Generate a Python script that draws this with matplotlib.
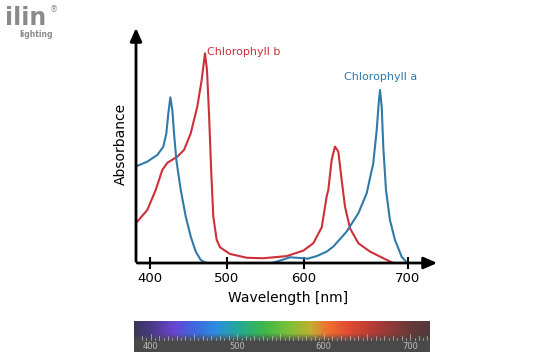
import numpy as np
import matplotlib.pyplot as plt
from matplotlib.colors import LinearSegmentedColormap

# Спектри поглинання (довжина хвилі, нм -> поглинання, відн. од.)
chl_a_wl_1 = [381.8, 383.5, 396.5, 409.5, 417.3, 421.2, 423.8, 426.4, 429.0, 431.2, 434.2,
              439.9, 446.4, 452.9, 459.4, 465.8, 472.3, 476]
chl_a_abs_1 = [0.404, 0.408, 0.426, 0.454, 0.489, 0.545, 0.629, 0.696, 0.643, 0.545, 0.433,
               0.307, 0.195, 0.111, 0.048, 0.013, 0.001, 0.0]
chl_a_wl_2 = [558.3, 569.1, 582.1, 595.2, 603.5, 612.5, 622.1, 628.4, 641.2, 652.4, 660.4,
              666.7, 670.0, 671.9, 673.2, 674.8, 676.3, 678.9, 682.7, 687.5, 694.0, 699.3]
chl_a_abs_2 = [0.0, 0.01, 0.024, 0.021, 0.018, 0.029, 0.048, 0.069, 0.132, 0.209, 0.293,
               0.419, 0.559, 0.671, 0.727, 0.657, 0.489, 0.307, 0.181, 0.097, 0.026, 0.0]

chl_b_wl = [381.8, 383.5, 396.5, 407.4, 416.0, 422.5, 435.5, 444.2, 452.9, 461.4, 467.1, 471.4,
            474.0, 476.6, 479.6, 482.2, 486.6, 490.9, 503.9, 525.7, 547.3, 577.8, 599.5, 609.2,
            617.3, 622.0, 623.6, 626.8, 630.0, 633.2, 636.4, 639.6, 644.4, 652.4, 663.6, 676.3, 685.9]
chl_b_abs = [0.17, 0.174, 0.223, 0.307, 0.391, 0.421, 0.447, 0.475, 0.545, 0.657, 0.769, 0.881,
             0.811, 0.629, 0.377, 0.195, 0.097, 0.066, 0.038, 0.022, 0.020, 0.029, 0.052, 0.083,
             0.150, 0.279, 0.307, 0.433, 0.489, 0.468, 0.349, 0.237, 0.146, 0.083, 0.048, 0.020, 0.0]

ticks = [400, 500, 600, 700]

# Кольори спектра для шкали внизу
spec_wl = [380, 400, 425, 450, 475, 500, 530, 560, 585, 605, 630, 660, 700, 725]
spec_col = ['#3b3458', '#4a3a86', '#6a44d0', '#3d68e0', '#2d8ee0', '#22a89a', '#3cb84a', '#7cc038',
            '#c0b030', '#f07030', '#e04a32', '#b03a36', '#6a3a3a', '#503838']

RED = '#cc3038'
BLUE = '#2f7aa8'

# Нелінійна шкала осі x, як на оригіналі
knot_wl = [300, 400, 500, 600, 700, 800]
knot_px = [73.0, 150, 227, 303.7, 408, 512.3]


def fwd(x):
    return np.interp(x, knot_wl, knot_px, left=-1e4, right=1e4)


def inv(x):
    return np.interp(x, knot_px, knot_wl, left=-1e4, right=1e4)


W, H = 538, 364
fig = plt.figure(figsize=(W / 100, H / 100), dpi=100)


def box(x0, y0, x1, y1):
    return [x0 / W, 1 - y1 / H, (x1 - x0) / W, (y1 - y0) / H]


ax = fig.add_axes(box(136, 25, 440, 263))
ax.set_xscale('function', functions=(fwd, inv))
kw = dict(lw=1.5, solid_joinstyle='round', solid_capstyle='round')
ax.plot(chl_b_wl, chl_b_abs, color=RED, **kw)
ax.plot(chl_a_wl_1, chl_a_abs_1, color=BLUE, **kw)
ax.plot(chl_a_wl_2, chl_a_abs_2, color=BLUE, **kw)
ax.set_xlim(381.8, 730.7)
ax.set_ylim(0, 1)

for s in ax.spines.values():
    s.set_visible(False)
ax.annotate('', xy=(1.0, 0), xytext=(-0.005, 0), xycoords='axes fraction',
            arrowprops=dict(arrowstyle='-|>,head_length=0.8,head_width=0.35', color='black', lw=2))
ax.annotate('', xy=(0, 1.0), xytext=(0, -0.005), xycoords='axes fraction',
            arrowprops=dict(arrowstyle='-|>,head_length=0.8,head_width=0.35', color='black', lw=2))
ax.set_xticks(ticks)
ax.set_xticklabels([str(t) for t in ticks])
ax.tick_params(axis='x', direction='inout', length=9, width=1.5, labelsize=9.5, pad=2)
ax.set_yticks([])
ax.set_xlabel('Wavelength [nm]', fontsize=10, labelpad=4)
ax.set_ylabel('Absorbance', fontsize=10, labelpad=6)

ax.text(474, 0.885, 'Chlorophyll b', color=RED, fontsize=8, va='center', ha='left')
ax.text(639, 0.78, 'Chlorophyll a', color=BLUE, fontsize=8, va='center', ha='left')

# Шкала спектра
bx = fig.add_axes(box(134, 321, 430, 352))
wl = np.linspace(380.7, 722.9, 400)
pos = [(w - spec_wl[0]) / (spec_wl[-1] - spec_wl[0]) for w in spec_wl]
cmap = LinearSegmentedColormap.from_list('spec', list(zip(pos, spec_col)))
bx.imshow(wl[None, :], aspect='auto', cmap=cmap, vmin=spec_wl[0], vmax=spec_wl[-1],
          extent=(380.7, 722.9, 0, 1))
fade = np.zeros((60, 1, 4))
fade[..., :3] = 0.29
fade[:, 0, 3] = np.clip((np.linspace(0, 1, 60) - 0.4) / 0.25, 0, 1)
bx.imshow(fade, aspect='auto', extent=(380.7, 722.9, 0, 1))
for t in range(390, 721, 5):
    ln = 0.2 if t % 50 == 0 else (0.13 if t % 10 == 0 else 0.08)
    bx.plot([t, t], [0.38, 0.38 + ln], color='#d8d8d8', lw=0.5, alpha=0.8)
for t in ticks:
    bx.text(t, 0.17, str(t), color='#bdbdbd', fontsize=6, ha='center', va='center')
bx.set_xlim(380.7, 722.9)
bx.set_ylim(0, 1)
bx.axis('off')

# Логотип
fig.text(5 / W, 1 - 25 / H, 'ilin', color='#8a8a8a', fontsize=17, fontweight='bold', va='baseline')
fig.text(19 / W, 1 - 30 / H, 'lighting', color='#8a8a8a', fontsize=5.5, fontweight='bold', va='top')
fig.text(50 / W, 1 - 10 / H, '®', color='#8a8a8a', fontsize=6, va='center')

fig.savefig('out.png', dpi=100)
